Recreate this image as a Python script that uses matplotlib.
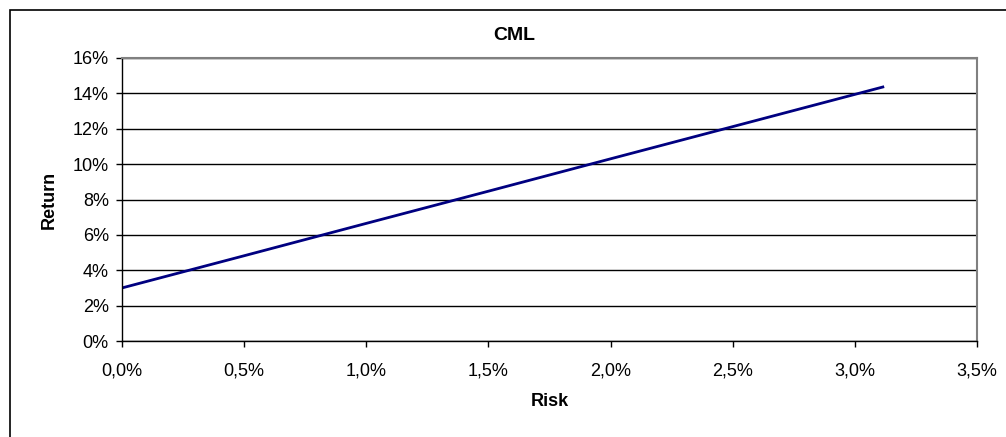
import matplotlib.pyplot as plt
from matplotlib.patches import Rectangle
from matplotlib.ticker import FuncFormatter

plt.rcParams["font.family"] = ["Liberation Sans", "DejaVu Sans"]

# capital market line: risk vs. expected return (both in %)
risk = [0.0, 0.5, 1.0, 1.5, 2.0, 2.5, 3.12]
ret = [3.0, 4.82, 6.65, 8.47, 10.30, 12.12, 14.38]

x_ticks = [0.0, 0.5, 1.0, 1.5, 2.0, 2.5, 3.0, 3.5]
y_ticks = [0, 2, 4, 6, 8, 10, 12, 14, 16]

W, H = 1006, 437
fig = plt.figure(figsize=(W / 100, H / 100), dpi=100)
ax = fig.add_axes([122 / W, 1 - 341 / H, (977 - 122) / W, (341 - 58) / H])

# chart frame, open at the right and bottom edges
fig.patches.append(Rectangle((10 / W, -0.1), 1.2, 1 - 10 / H + 0.1,
                             transform=fig.transFigure, fill=False,
                             edgecolor="black", linewidth=1.2))

ax.plot(risk, ret, color="#000080", linewidth=2, solid_capstyle="butt")

ax.set_xlim(0, 3.5)
ax.set_ylim(0, 16)
ax.set_xticks(x_ticks)
ax.set_yticks(y_ticks)
ax.xaxis.set_major_formatter(FuncFormatter(lambda v, _: f"{v:.1f}%".replace(".", ",")))
ax.yaxis.set_major_formatter(FuncFormatter(lambda v, _: f"{v:.0f}%"))
ax.tick_params(direction="out", length=4.5, width=1, labelsize=13, colors="black")
ax.tick_params(axis="x", pad=11)
ax.tick_params(axis="y", pad=5)

ax.grid(axis="y", color="black", linewidth=1)
ax.set_axisbelow(True)
for side in ("top", "right"):
    ax.spines[side].set_color("#808080")
    ax.spines[side].set_linewidth(1.5)
for side in ("left", "bottom"):
    ax.spines[side].set_color("black")
    ax.spines[side].set_linewidth(1)

fig.text(514 / W, 1 - 35 / H, "CML", fontsize=14, fontweight="bold",
         ha="center", va="center")
fig.text(549.5 / W, 1 - 401 / H, "Risk", fontsize=13, fontweight="bold",
         ha="center", va="center")
fig.text(49.5 / W, 1 - 200 / H, "Return", fontsize=13, fontweight="bold",
         ha="center", va="center", rotation=90)

fig.savefig("out.png", dpi=100)
